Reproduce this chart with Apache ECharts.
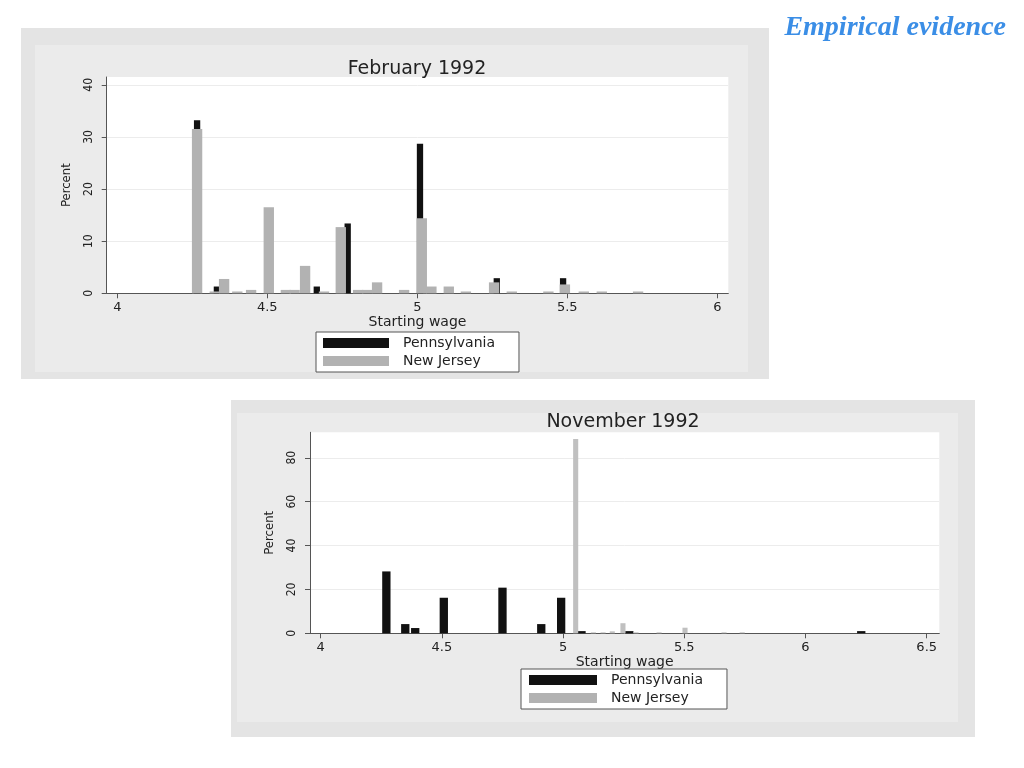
<!DOCTYPE html>
<html>
<head>
<meta charset="utf-8">
<script src="https://cdn.jsdelivr.net/npm/echarts@6/dist/echarts.min.js"></script>
<style>
html,body{margin:0;padding:0;background:#fff;}
#c{width:1024px;height:768px;}
</style>
</head>
<body>
<div id="c"></div>
<script>
// ---- February 1992 ----
var febPAWage = [4.266, 4.332, 4.665, 4.768, 5.009, 5.265, 5.486];
var febPAPct  = [33.2, 1.3, 1.3, 13.4, 28.7, 2.9, 2.9];
var febNJWage = [4.266, 4.325, 4.356, 4.400, 4.446, 4.505, 4.562, 4.591, 4.626, 4.689, 4.745, 4.803, 4.833, 4.866, 4.956, 5.015, 5.047, 5.105, 5.162, 5.256, 5.315, 5.437, 5.492, 5.555, 5.615, 5.736];
var febNJPct  = [31.5, 0.35, 2.75, 0.35, 0.65, 16.5, 0.65, 0.65, 5.26, 0.35, 12.7, 0.65, 0.65, 2.1, 0.65, 14.4, 1.3, 1.3, 0.35, 2.1, 0.35, 0.35, 1.7, 0.35, 0.35, 0.35];
// ---- November 1992 ----
var novPAWage = [4.271, 4.349, 4.390, 4.508, 4.750, 4.910, 4.992, 5.076, 5.273, 6.230];
var novPAPct  = [28.2, 4.2, 2.4, 16.2, 20.8, 4.2, 16.2, 1.0, 1.0, 1.0];
var novNJWage = [5.052, 5.125, 5.165, 5.203, 5.247, 5.301, 5.396, 5.503, 5.664, 5.739];
var novNJPct  = [88.5, 0.45, 0.45, 0.9, 4.6, 0.45, 0.45, 2.55, 0.45, 0.45];

var febXTicks = [4, 4.5, 5, 5.5, 6];
var febYTicks = [0, 10, 20, 30, 40];
var novXTicks = [4, 4.5, 5, 5.5, 6, 6.5];
var novYTicks = [0, 20, 40, 60, 80];

var seriesNames = ['Pennsylvania', 'New Jersey'];
var titles = ['February 1992', 'November 1992'];
var headline = 'Empirical evidence';
var xName = 'Starting wage';
var yName = 'Percent';

function zip(a, b) { return a.map(function (v, i) { return [v, b[i]]; }); }

function barRenderer(width) {
  return function (params, api) {
    var x = api.value(0), y = api.value(1);
    var p0 = api.coord([x - width / 2, y]);
    var p1 = api.coord([x + width / 2, 0]);
    return {
      type: 'rect',
      shape: { x: p0[0], y: p0[1], width: p1[0] - p0[0], height: p1[1] - p0[1] },
      style: { fill: api.visual('color') }
    };
  };
}

var axisColor = '#555';
var font = 'DejaVu Sans';

function xAxisCfg(idx, min, max, ticks) {
  return {
    type: 'value', gridIndex: idx, min: min, max: max, interval: 0.5,
    name: xName, nameLocation: 'middle', nameGap: 17,
    nameTextStyle: { fontFamily: font, fontSize: 14, color: '#222' },
    axisLine: { show: true, onZero: false, lineStyle: { color: axisColor, width: 1 } },
    axisTick: { show: true, length: 5, customValues: ticks, lineStyle: { color: axisColor } },
    axisLabel: { customValues: ticks, margin: 8, fontFamily: font, fontSize: 13, color: '#222',
      formatter: function (v) { return String(v); } },
    splitLine: { show: false }
  };
}
function yAxisCfg(idx, max, interval, ticks) {
  return {
    type: 'value', gridIndex: idx, min: 0, max: max, interval: interval,
    name: yName, nameLocation: 'middle', nameGap: 34, nameRotate: 90,
    nameTextStyle: { fontFamily: 'DejaVu Sans Condensed', fontSize: 13, color: '#222' },
    axisLine: { show: true, lineStyle: { color: axisColor, width: 1 } },
    axisTick: { show: true, length: 5, customValues: ticks, lineStyle: { color: axisColor } },
    axisLabel: { customValues: ticks, rotate: 90, margin: 12, fontFamily: 'DejaVu Sans Condensed', fontSize: 12, color: '#222' },
    splitLine: { show: true, lineStyle: { color: '#ececec', width: 1 } }
  };
}
function legendCfg(left, top, itemWidth, padding) {
  return {
    data: seriesNames, orient: 'vertical', left: left, top: top,
    icon: 'rect', itemWidth: itemWidth, itemHeight: 10, itemGap: 2,
    padding: padding, backgroundColor: '#fff', borderColor: '#555', borderWidth: 1, borderRadius: 0,
    selectedMode: false,
    textStyle: { fontFamily: font, fontSize: 14, color: '#222', lineHeight: 16, padding: [0, 0, 0, 9] }
  };
}

var chart = echarts.init(document.getElementById('c'));
chart.setOption({
  backgroundColor: '#fff',
  animation: false,
  graphic: [
    { type: 'rect', z: -10, shape: { x: 21, y: 28, width: 748, height: 351 }, style: { fill: '#e4e4e4' } },
    { type: 'rect', z: -9, shape: { x: 35, y: 45, width: 713, height: 327 }, style: { fill: '#ebebeb' } },
    { type: 'rect', z: -10, shape: { x: 231, y: 400, width: 744, height: 337 }, style: { fill: '#e4e4e4' } },
    { type: 'rect', z: -9, shape: { x: 237, y: 413, width: 721, height: 309 }, style: { fill: '#ebebeb' } }
  ],
  title: [
    { text: titles[0], left: 412, top: 55, textAlign: 'center',
      textStyle: { fontFamily: font, fontSize: 19, fontWeight: 'normal', color: '#222' } },
    { text: titles[1], left: 618, top: 408, textAlign: 'center',
      textStyle: { fontFamily: font, fontSize: 19, fontWeight: 'normal', color: '#222' } },
    { text: headline, right: 13, top: 9,
      textStyle: { fontFamily: 'Liberation Serif', fontSize: 28, fontWeight: 'bold', fontStyle: 'italic', color: '#3b8ee6' } }
  ],
  legend: [
    legendCfg(316, 332, 66, [3, 24, 3, 7]),
    legendCfg(521, 669, 68, [3, 24, 3, 8])
  ],
  grid: [
    { left: 106.7, top: 77, width: 621.6, height: 216.3, show: true, backgroundColor: '#fff', borderWidth: 0 },
    { left: 310, top: 432.3, width: 629.3, height: 201, show: true, backgroundColor: '#fff', borderWidth: 0 }
  ],
  xAxis: [
    xAxisCfg(0, 3.9647, 6.0367, febXTicks),
    xAxisCfg(1, 3.956, 6.552, novXTicks)
  ],
  yAxis: [
    yAxisCfg(0, 41.5, 10, febYTicks),
    yAxisCfg(1, 91.6, 20, novYTicks)
  ],
  series: [
    { type: 'custom', name: seriesNames[0], xAxisIndex: 0, yAxisIndex: 0, itemStyle: { color: '#111111' },
      renderItem: barRenderer(0.021), encode: { x: 0, y: 1 }, data: zip(febPAWage, febPAPct), z: 2 },
    { type: 'custom', name: seriesNames[1], xAxisIndex: 0, yAxisIndex: 0, itemStyle: { color: '#b2b2b2' },
      renderItem: barRenderer(0.0345), encode: { x: 0, y: 1 }, data: zip(febNJWage, febNJPct), z: 3 },
    { type: 'custom', name: seriesNames[0], xAxisIndex: 1, yAxisIndex: 1, itemStyle: { color: '#111111' },
      renderItem: barRenderer(0.0343), encode: { x: 0, y: 1 }, data: zip(novPAWage, novPAPct), z: 2 },
    { type: 'custom', name: seriesNames[1], xAxisIndex: 1, yAxisIndex: 1, itemStyle: { color: '#c0c0c0' },
      renderItem: barRenderer(0.021), encode: { x: 0, y: 1 }, data: zip(novNJWage, novNJPct), z: 3 }
  ]
});
</script>
</body>
</html>
